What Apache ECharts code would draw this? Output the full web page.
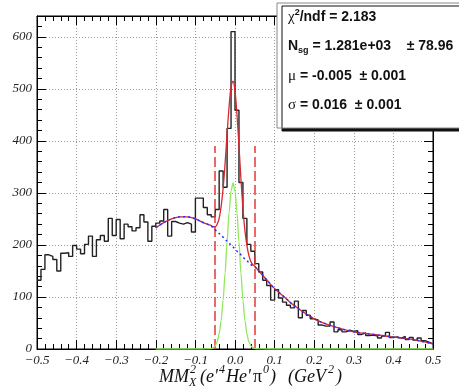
<!DOCTYPE html>
<html>
<head>
<meta charset="utf-8">
<script src="https://cdn.jsdelivr.net/npm/echarts@6/dist/echarts.min.js"></script>
<style>
  html, body { margin: 0; padding: 0; background: #fff; }
  #chart { width: 459px; height: 392px; }
</style>
</head>
<body>
<div id="chart"></div>
<script>
// histogram: 100 bins of 0.01 from -0.5
const binStart = -0.5
const binWidth = 0.01
const histCounts = [
  132, 153, 181, 178, 172, 150, 184, 185, 178, 199,
  192, 183, 201, 217, 178, 210, 218, 207, 251, 218,
  249, 212, 240, 235, 227, 233, 258, 244, 207, 236,
  242, 246, 268, 217, 245, 242, 240, 243, 240, 225,
  290, 290, 272, 258, 254, 268, 342, 311, 424, 610,
  459, 320, 251, 201, 188, 164, 148, 132, 122, 94,
  114, 98, 90, 84, 79, 92, 60, 74, 65, 58,
  56, 46, 44, 44, 52, 33, 37, 33, 36, 34,
  35, 28, 31, 26, 27, 25, 21, 25, 32, 22,
  23, 21, 24, 18, 22, 17, 21, 16, 13, 10
]

// fit curves
const fitX = [-0.2, -0.18, -0.16, -0.14, -0.12, -0.1, -0.08, -0.07, -0.06, -0.055,
  -0.05, -0.045, -0.04, -0.035, -0.03, -0.025, -0.02, -0.015, -0.01, -0.005,
  0, 0.005, 0.01, 0.015, 0.02, 0.025, 0.03, 0.035, 0.04, 0.045,
  0.05, 0.06, 0.08, 0.1, 0.12, 0.15, 0.2, 0.25, 0.3, 0.35, 0.4, 0.45, 0.5]
const bgFit = [233, 243, 250, 254, 254, 250, 243, 240, 236, 233,
  229, 226, 222, 219, 215, 211, 207, 203, 200, 196,
  192, 188, 185, 181, 177, 173, 170, 166, 162, 160,
  158, 150, 133, 116, 103, 83, 58, 43, 33, 28, 23, 18, 10]
const sigFit = [0, 0, 0, 0, 0, 0, 0, 0.1, 0.9, 2.4,
  6, 14, 29, 55, 94, 146, 206, 262, 304, 319,
  304, 262, 206, 146, 94, 55, 29, 14, 6, 2.4,
  0.9, 0.1, 0, 0, 0, 0, 0, 0, 0, 0, 0, 0, 0]
const totalFit = [233, 243, 250, 254, 254, 250, 243, 240, 237, 235,
  235, 240, 251, 274, 309, 357, 413, 465, 504, 515,
  496, 450, 391, 327, 271, 228, 199, 180, 168, 162,
  159, 150, 133, 116, 103, 83, 58, 43, 33, 28, 23, 18, 10]

// signal window cuts
const cutEdges = [-0.05, 0.05]
const cutTop = 390

const statLines = [
  '{n|χ}{sup|2}{b|/ndf = 2.183}',
  '{b|N}{sub|sg}{b| = 1.281e+03    ± 78.96}',
  '{n|μ}{b| = -0.005  ± 0.001}',
  '{n|σ}{b| = 0.016  ± 0.001}'
]

// x axis title pieces: [text, x, kind]
const titlePieces = [
  ['MM', 159, 'm'], ['2', 190, 'sup'], ['X', 189, 'sub'],
  ["(e'", 200, 'm'], ['4', 219, 'sup'], ["He'", 226, 'm'],
  ['π', 253, 'm'], ['0', 263, 'sup'], [')', 270, 'm'],
  ['(GeV', 288, 'm'], ['2', 328, 'sup'], [')', 336, 'm']
]

const histData = histCounts.map((v, i) => [binStart + i * binWidth, v])
histData.push([binStart + histCounts.length * binWidth, histCounts[histCounts.length - 1]])

const pairs = ys => fitX.map((x, i) => [x, ys[i]])

const serif = 'Liberation Serif'
const tickLabel = {
  fontFamily: serif,
  fontStyle: 'italic',
  fontSize: 13,
  color: '#222'
}
const dotted = { color: '#9a9a9a', width: 1, type: [1, 2] }

function xAxisOpt(pos, labels) {
  return {
    type: 'value',
    position: pos,
    min: -0.5,
    max: 0.5,
    interval: 0.1,
    axisLine: { show: true, onZero: false, lineStyle: { color: '#000', width: 1 } },
    axisTick: { show: true, inside: true, length: 9, lineStyle: { color: '#000' } },
    minorTick: { show: true, splitNumber: 5, length: 5, lineStyle: { color: '#000' } },
    splitLine: { show: labels, lineStyle: dotted },
    axisLabel: labels ? Object.assign({
      margin: 5,
      formatter: v => (Math.abs(v) < 1e-9 ? '0.0' : v.toFixed(1).replace('-', '\u2212'))
    }, tickLabel) : { show: false }
  }
}

function yAxisOpt(pos, labels) {
  return {
    type: 'value',
    position: pos,
    min: 0,
    max: 640,
    interval: 100,
    axisLine: { show: true, onZero: false, lineStyle: { color: '#000', width: 1 } },
    axisTick: { show: true, inside: true, length: 9, lineStyle: { color: '#000' } },
    minorTick: { show: true, splitNumber: 5, length: 5, lineStyle: { color: '#000' } },
    splitLine: { show: labels, lineStyle: dotted },
    axisLabel: labels ? Object.assign({
      margin: 5,
      formatter: v => (v > 600 ? '' : String(v))
    }, tickLabel) : { show: false }
  }
}

const chart = echarts.init(document.getElementById('chart'), null, { renderer: 'canvas' })

const titleStyle = {
  m: { size: 18, dy: 0 },
  sup: { size: 12, dy: -7 },
  sub: { size: 12, dy: 6 }
}

chart.setOption({
  animation: false,
  backgroundColor: '#fff',
  grid: { left: 37, right: 26, top: 16, bottom: 43, show: true, borderColor: '#000', borderWidth: 1 },
  xAxis: [xAxisOpt('bottom', true), xAxisOpt('top', false)],
  yAxis: [yAxisOpt('left', true), yAxisOpt('right', false)],
  series: [
    {
      name: 'data',
      type: 'line',
      step: 'end',
      data: histData,
      symbol: 'none',
      lineStyle: { color: '#222', width: 1.4 },
      z: 2
    },
    {
      name: 'cuts',
      type: 'line',
      data: [],
      symbol: 'none',
      markLine: {
        silent: true,
        symbol: 'none',
        label: { show: false },
        lineStyle: { color: '#e23a3a', width: 1.5, type: [10, 4] },
        data: cutEdges.map(x => [{ coord: [x, 0] }, { coord: [x, cutTop] }])
      },
      z: 3
    },
    {
      name: 'total',
      type: 'line',
      data: pairs(totalFit),
      symbol: 'none',
      smooth: 0.35,
      lineStyle: { color: '#d9272e', width: 1.3 },
      z: 4
    },
    {
      name: 'signal',
      type: 'line',
      data: pairs(sigFit),
      symbol: 'none',
      smooth: 0.3,
      smoothMonotone: 'x',
      lineStyle: { color: '#8fe85a', width: 1.3 },
      z: 5
    },
    {
      name: 'background',
      type: 'line',
      data: pairs(bgFit),
      symbol: 'none',
      smooth: 0.35,
      lineStyle: { color: '#2a2aff', width: 1.5, type: [2, 3] },
      z: 6
    }
  ],
  graphic: [
    {
      type: 'rect',
      shape: { x: 277, y: 3, width: 240, height: 125 },
      style: {
        fill: '#fff', stroke: '#888', lineWidth: 1,
        shadowColor: '#111', shadowOffsetX: 5, shadowOffsetY: 3, shadowBlur: 0
      },
      z: 100
    }
  ].concat(statLines.map((t, i) => ({
    type: 'text',
    x: 288,
    y: 17 + i * 29.5,
    style: {
      text: t,
      verticalAlign: 'middle',
      fill: '#111',
      rich: {
        b: { fontFamily: 'Liberation Sans', fontWeight: 'bold', fontSize: 14, lineHeight: 18 },
        n: { fontFamily: serif, fontSize: 15, lineHeight: 18 },
        sup: { fontFamily: 'Liberation Sans', fontWeight: 'bold', fontSize: 9, lineHeight: 18, verticalAlign: 'top' },
        sub: { fontFamily: 'Liberation Sans', fontWeight: 'bold', fontSize: 9, lineHeight: 18, verticalAlign: 'bottom' }
      }
    },
    z: 101
  }))).concat(titlePieces.map(p => ({
    type: 'text',
    x: p[1],
    y: 377 + titleStyle[p[2]].dy,
    style: {
      text: p[0],
      fontFamily: serif,
      fontStyle: p[0] === 'π' ? 'normal' : 'italic',
      fontSize: titleStyle[p[2]].size,
      fill: '#111',
      verticalAlign: 'middle'
    }
  })))
})
</script>
</body>
</html>
